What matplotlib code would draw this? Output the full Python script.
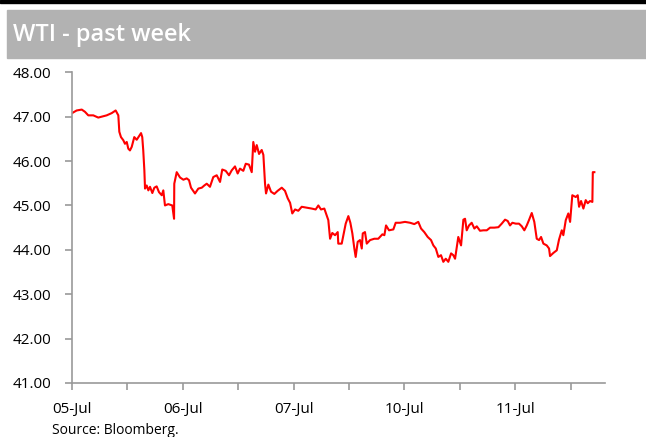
import matplotlib
matplotlib.use('Agg')
import matplotlib.pyplot as plt
from matplotlib.patches import Rectangle

plt.rcParams['font.family'] = ['Open Sans', 'DejaVu Sans']

# position in trading days since 05-Jul open, WTI price (USD/bbl)
days = [0.000, 0.042, 0.088, 0.117, 0.147, 0.192, 0.237, 0.282, 0.313, 0.358,
        0.394, 0.418, 0.427, 0.442, 0.463, 0.478, 0.494, 0.508, 0.523, 0.539,
        0.562, 0.584, 0.605, 0.623, 0.634, 0.643, 0.653, 0.659, 0.674, 0.689,
        0.704, 0.725, 0.743, 0.764, 0.785, 0.810, 0.824, 0.839, 0.869, 0.905,
        0.921, 0.923, 0.945, 0.975, 1.005, 1.035, 1.056, 1.074, 1.110, 1.140,
        1.171, 1.194, 1.216, 1.245, 1.275, 1.306, 1.336, 1.356, 1.387, 1.417,
        1.441, 1.471, 1.495, 1.516, 1.546, 1.568, 1.597, 1.622, 1.636, 1.652,
        1.667, 1.688, 1.712, 1.727, 1.742, 1.751, 1.772, 1.796, 1.826, 1.856,
        1.893, 1.922, 1.947, 1.968, 1.988, 2.013, 2.042, 2.073, 2.118, 2.163,
        2.199, 2.223, 2.247, 2.277, 2.313, 2.329, 2.349, 2.374, 2.398, 2.403,
        2.434, 2.449, 2.470, 2.494, 2.512, 2.530, 2.548, 2.560, 2.578, 2.599,
        2.615, 2.624, 2.644, 2.660, 2.690, 2.728, 2.764, 2.801, 2.819, 2.834,
        2.861, 2.900, 2.921, 2.960, 3.005, 3.051, 3.089, 3.125, 3.150, 3.179,
        3.210, 3.240, 3.261, 3.283, 3.306, 3.330, 3.351, 3.373, 3.396, 3.421,
        3.441, 3.457, 3.486, 3.511, 3.532, 3.547, 3.562, 3.583, 3.607, 3.631,
        3.653, 3.682, 3.712, 3.743, 3.773, 3.811, 3.848, 3.878, 3.908, 3.932,
        3.953, 3.974, 4.005, 4.034, 4.059, 4.082, 4.104, 4.124, 4.149, 4.172,
        4.194, 4.215, 4.233, 4.254, 4.284, 4.305, 4.314, 4.344, 4.375, 4.395,
        4.420, 4.434, 4.456, 4.479, 4.495, 4.515, 4.546, 4.564, 4.576, 4.594,
        4.615, 4.636, 4.654, 4.675, 4.696, 4.700, 4.714]
price = [47.08, 47.14, 47.16, 47.11, 47.03, 47.03, 46.98, 47.01, 47.03, 47.08,
         47.14, 47.03, 46.66, 46.54, 46.47, 46.39, 46.43, 46.28, 46.24, 46.32,
         46.54, 46.48, 46.56, 46.63, 46.54, 46.24, 45.79, 45.38, 45.45, 45.34,
         45.42, 45.28, 45.40, 45.43, 45.30, 45.23, 45.34, 45.00, 45.03, 45.00,
         44.70, 45.49, 45.75, 45.63, 45.58, 45.61, 45.57, 45.40, 45.27, 45.38,
         45.40, 45.45, 45.49, 45.42, 45.64, 45.68, 45.53, 45.81, 45.78, 45.68,
         45.79, 45.88, 45.72, 45.83, 45.78, 45.94, 45.92, 45.75, 46.43, 46.21,
         46.36, 46.16, 46.25, 46.14, 45.49, 45.27, 45.47, 45.31, 45.26, 45.33,
         45.40, 45.33, 45.16, 45.06, 44.82, 44.91, 44.88, 44.97, 44.95, 44.93,
         44.91, 45.00, 44.91, 44.93, 44.67, 44.25, 44.38, 44.33, 44.40, 44.14,
         44.14, 44.33, 44.59, 44.76, 44.61, 44.37, 44.03, 43.84, 44.18, 44.22,
         44.03, 44.37, 44.40, 44.14, 44.22, 44.25, 44.25, 44.35, 44.33, 44.55,
         44.44, 44.46, 44.61, 44.61, 44.63, 44.61, 44.58, 44.63, 44.48, 44.40,
         44.29, 44.22, 44.10, 44.03, 43.84, 43.88, 43.73, 43.80, 43.73, 43.92,
         43.88, 43.80, 44.29, 44.10, 44.68, 44.70, 44.44, 44.55, 44.61, 44.48,
         44.53, 44.43, 44.44, 44.44, 44.50, 44.50, 44.51, 44.59, 44.68, 44.65,
         44.55, 44.61, 44.59, 44.59, 44.53, 44.44, 44.55, 44.67, 44.83, 44.63,
         44.25, 44.22, 44.29, 44.14, 44.10, 44.03, 43.86, 43.93, 43.99, 44.23,
         44.44, 44.33, 44.67, 44.82, 44.63, 45.23, 45.19, 45.23, 44.97, 45.10,
         44.93, 45.12, 45.05, 45.10, 45.08, 45.75, 45.75]

day_labels = ['05-Jul', '06-Jul', '07-Jul', '10-Jul', '11-Jul']
y_ticks = [41, 42, 43, 44, 45, 46, 47, 48]

fig = plt.figure(figsize=(6.46, 4.37), dpi=100)

# black rule and grey title band
fig.patches.append(Rectangle((0, 1 - 3 / 437), 1, 3 / 437, transform=fig.transFigure,
                             color='black', zorder=0))
fig.patches.append(Rectangle((7 / 646, 1 - 58 / 437), 1 - 7 / 646, 48 / 437,
                             transform=fig.transFigure, color='#b2b2b2', zorder=0))
fig.text(13 / 646, 1 - 35 / 437, 'WTI - past week', color='white', fontsize=17,
         fontweight='semibold', va='center', ha='left')

ax = fig.add_axes([72 / 646, 54 / 437, 533 / 646, 310.7 / 437])
ax.plot(days, price, color='#ff0000', lw=1.5)

ax.set_xlim(0, 4.81)
ax.set_ylim(41, 48)
ax.set_yticks(y_ticks)
ax.set_yticklabels(['%.2f' % v for v in y_ticks])
ax.set_xticks(range(len(day_labels)))
ax.set_xticklabels(day_labels)
ax.set_xticks([i + 0.5 for i in range(len(day_labels))], minor=True)

for s in ['top', 'right']:
    ax.spines[s].set_visible(False)
for s in ['left', 'bottom']:
    ax.spines[s].set_color('#999999')
    ax.spines[s].set_linewidth(1.2)
ax.tick_params(axis='both', which='both', color='#999999', width=1.2, length=5,
               labelsize=11, labelcolor='black')
ax.tick_params(axis='x', pad=9)
ax.tick_params(axis='y', pad=10)

fig.text(52 / 646, 1 - 430 / 437, 'Source: Bloomberg.', fontsize=10, va='center', ha='left')

fig.savefig('out.png', dpi=100)
